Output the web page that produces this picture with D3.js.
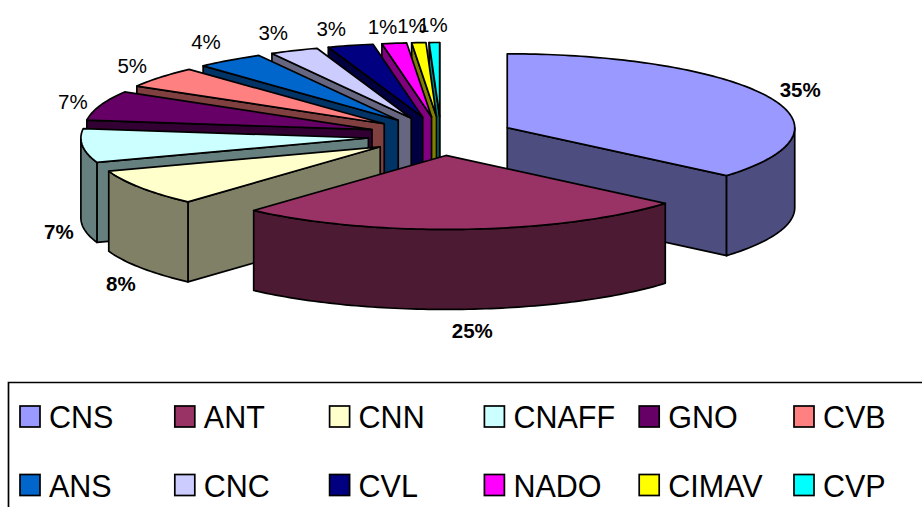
<!DOCTYPE html>
<html>
<head>
<meta charset="utf-8">
<script src="https://cdnjs.cloudflare.com/ajax/libs/d3/7.8.5/d3.min.js"></script>
<style>
html,body{margin:0;padding:0;background:#fff}
svg{display:block}
text{font-family:"Liberation Sans",Arial,sans-serif;fill:#000}
</style>
</head>
<body>
<div id="chart"></div>
<script>
// Share of each unit, in percent
const categories = ["CNS","ANT","CNN","CNAFF","GNO","CVB","ANS","CNC","CVL","NADO","CIMAV","CVP"];
const shares = [35.45,25.45,8.05,7.45,6.55,4.7,3.9,2.8,2.65,1.45,0.85,0.7];
const colors = ["#9999FF","#993366","#FFFFCC","#CCFFFF","#660066","#FF8080","#0066CC","#CCCCFF","#000080","#FF00FF","#FFFF00","#00FFFF"];
const boldLabels = ["CNS","ANT","CNN","CNAFF"];

const width = 922, height = 507;
const center = {x: 441, y: 136};
const radius = {x: 287.5, y: 74};
const explode = {x: 73, y: 19.5};
const depth = 80;
const TAU = Math.PI * 2;

const svg = d3.select("#chart").append("svg").attr("width", width).attr("height", height);

// The tilted view pushes angles slightly clockwise, except at the very top
const tilt = a => a + 0.049 * Math.sqrt(Math.max(0, Math.sin(a / 2)));

const slices = d3.pie().sort(null).value(d => d.share)(
  categories.map((name, i) => ({name, share: shares[i], color: colors[i]}))
).map(s => ({...s, startAngle: tilt(s.startAngle), endAngle: tilt(s.endAngle)}));

const line = d3.line().x(p => p[0]).y(p => p[1]);
const midOf = s => (s.startAngle + s.endAngle) / 2;

// Each slice is pulled out along its bisector
function apexOf(s) {
  const m = midOf(s);
  return [center.x + explode.x * Math.sin(m), center.y - explode.y * Math.cos(m)];
}
function rim(s, a) {
  const o = apexOf(s);
  return [o[0] + radius.x * Math.sin(a), o[1] - radius.y * Math.cos(a)];
}
function sweep(from, to) {
  const n = Math.max(2, Math.ceil((to - from) / 0.02));
  return d3.range(n + 1).map(i => from + (to - from) * i / n);
}
const lower = p => [p[0], p[1] + depth];

function drawPoly(g, pts, fill) {
  g.append("path")
    .attr("d", line(pts) + "Z")
    .attr("fill", fill)
    .attr("stroke", "#000")
    .attr("stroke-width", 1.7)
    .attr("stroke-linejoin", "round");
}

// Far slices first; the two largest sit in front of everything else
const drawOrder = d3.range(slices.length).slice(2).reverse().concat([0, 1]);

const pieGroup = svg.append("g");
drawOrder.forEach(i => {
  const s = slices[i];
  const g = pieGroup.append("g");
  const side = d3.interpolateRgb(s.data.color, "#000")(0.5);
  const o = apexOf(s);
  const a0 = s.startAngle, a1 = s.endAngle;

  if (Math.sin(a0) < 0) {
    const p = rim(s, a0);
    drawPoly(g, [o, p, lower(p), lower(o)], side);
  }
  if (Math.sin(a1) > 0) {
    const p = rim(s, a1);
    drawPoly(g, [o, p, lower(p), lower(o)], side);
  }
  const w0 = Math.max(a0, TAU / 4), w1 = Math.min(a1, TAU * 3 / 4);
  if (w1 > w0) {
    const arc = sweep(w0, w1).map(a => rim(s, a));
    drawPoly(g, arc.concat(arc.map(lower).reverse()), side);
  }
  drawPoly(g, [o].concat(sweep(a0, a1).map(a => rim(s, a))), s.data.color);
});

// Percentage labels sit just outside the rim, with small per-label adjustments
const labelReach = {x: 1.1, y: 1.3};
const labelShiftX = [6, 5, 4, 5, 0, -6, -7, -9, -12, -8, -5, -1];
const labelShiftY = [2, -1, 3, 3, 3, 2, -1, 2, 4, 5, 4, 4];
svg.append("g").selectAll("text").data(slices).join("text")
  .attr("x", (s, i) => apexOf(s)[0] + radius.x * labelReach.x * Math.sin(midOf(s)) + labelShiftX[i])
  .attr("y", (s, i) => {
    const front = Math.cos(midOf(s)) < 0 ? depth : 0;
    return apexOf(s)[1] - radius.y * labelReach.y * Math.cos(midOf(s)) + front + 8 + labelShiftY[i];
  })
  .attr("text-anchor", "middle")
  .style("font-size", "20.5px")
  .style("font-weight", s => boldLabels.includes(s.data.name) ? "bold" : "normal")
  .text(s => d3.format(".0f")(s.data.share) + "%");

// Legend frame runs off the right and bottom edges
const legend = svg.append("g");
legend.append("path")
  .attr("d", line([[8.5, height], [8.5, 382.5], [width, 382.5]]))
  .attr("fill", "none").attr("stroke", "#000").attr("stroke-width", 1.7);

const columns = d3.scalePoint().domain(d3.range(6)).range([20, 794]);
const rows = d3.scalePoint().domain([0, 1]).range([406, 474.5]);
const entries = legend.selectAll("g").data(slices).join("g")
  .attr("transform", (s, i) => `translate(${columns(i % 6)},${rows(Math.floor(i / 6))})`);
entries.append("rect")
  .attr("width", 20).attr("height", 21)
  .attr("fill", s => s.data.color)
  .attr("stroke", "#000").attr("stroke-width", 1.7);
entries.append("text")
  .attr("transform", "translate(29,22) scale(1,1.05)")
  .style("font-size", "30.5px")
  .text(s => s.data.name);
</script>
</body>
</html>
